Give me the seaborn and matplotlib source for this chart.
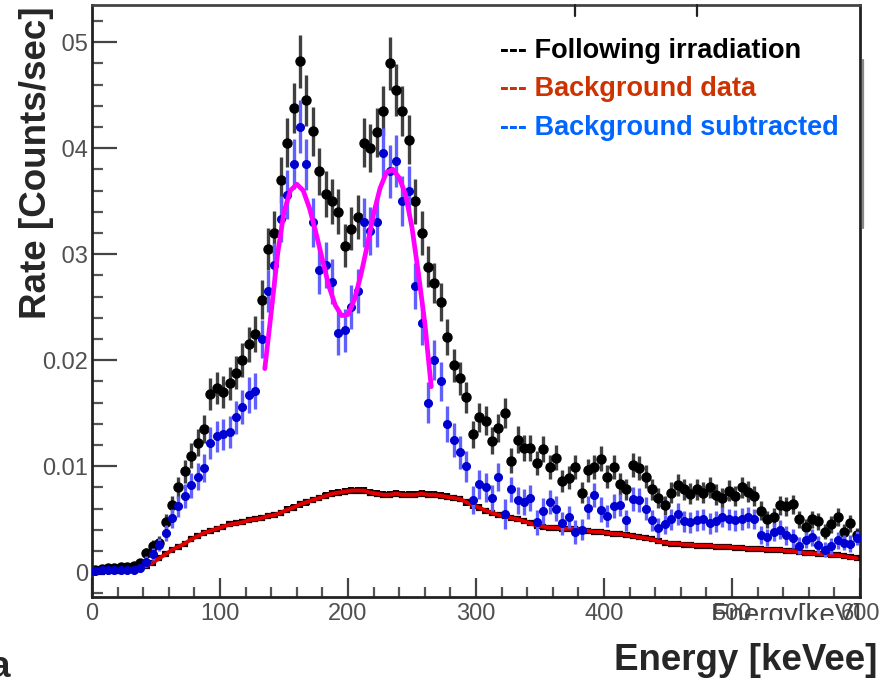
import numpy as np
import matplotlib.pyplot as plt
import seaborn as sns
from matplotlib.lines import Line2D
from matplotlib.ticker import MultipleLocator, FixedLocator

# 5 keVee bins
energy = np.arange(2.5, 600, 5.0)

following = [
    0.0002, 0.0003, 0.0004, 0.0004, 0.0005, 0.0005, 0.0006, 0.0009, 0.0018, 0.0025,
    0.0028, 0.0047, 0.0063, 0.0080, 0.0095, 0.0110, 0.0122, 0.0135, 0.0168, 0.0174,
    0.0170, 0.0178, 0.0188, 0.0200, 0.0215, 0.0225, 0.0257, 0.0305, 0.0320, 0.0370,
    0.0405, 0.0438, 0.0482, 0.0445, 0.0416, 0.0378, 0.0357, 0.0350, 0.0340, 0.0308,
    0.0324, 0.0335, 0.0405, 0.0400, 0.0415, 0.0435, 0.0480, 0.0455, 0.0435, 0.0408,
    0.0350, 0.0320, 0.0288, 0.0273, 0.0255, 0.0222, 0.0195, 0.0183, 0.0165, 0.0130,
    0.0146, 0.0143, 0.0124, 0.0136, 0.0150, 0.0105, 0.0125, 0.0117, 0.0117, 0.0103,
    0.0116, 0.0099, 0.0108, 0.0086, 0.0089, 0.0099, 0.0075, 0.0096, 0.0099, 0.0107,
    0.0090, 0.0099, 0.0083, 0.0078, 0.0101, 0.0098, 0.0090, 0.0078, 0.0070, 0.0063,
    0.0075, 0.0082, 0.0078, 0.0074, 0.0078, 0.0075, 0.0080, 0.0073, 0.0070, 0.0077,
    0.0072, 0.0080, 0.0076, 0.0072, 0.0058, 0.0050, 0.0052, 0.0063, 0.0062, 0.0064,
    0.0050, 0.0043, 0.0050, 0.0048, 0.0038, 0.0045, 0.0052, 0.0038, 0.0046, 0.0035,
]

background = [
    0.0000, 0.0000, 0.0001, 0.0001, 0.0001, 0.0002, 0.0003, 0.0004, 0.0006, 0.0009,
    0.0013, 0.0017, 0.0021, 0.0024, 0.0027, 0.0031, 0.0034, 0.0037, 0.0039, 0.0041,
    0.0043, 0.0045, 0.0046, 0.0047, 0.0049, 0.0050, 0.0051, 0.0053, 0.0054, 0.0056,
    0.0059, 0.0061, 0.0064, 0.0066, 0.0068, 0.0070, 0.0072, 0.0074, 0.0075, 0.0076,
    0.0077, 0.0077, 0.0077, 0.0075, 0.0074, 0.0073, 0.0073, 0.0074, 0.0073, 0.0073,
    0.0073, 0.0074, 0.0073, 0.0073, 0.0072, 0.0071, 0.0070, 0.0069, 0.0066, 0.0063,
    0.0061, 0.0058, 0.0056, 0.0054, 0.0053, 0.0051, 0.0050, 0.0048, 0.0046, 0.0044,
    0.0043, 0.0042, 0.0042, 0.0041, 0.0041, 0.0041, 0.0040, 0.0039, 0.0038, 0.0038,
    0.0037, 0.0036, 0.0036, 0.0035, 0.0034, 0.0033, 0.0032, 0.0031, 0.0029, 0.0028,
    0.0027, 0.0027, 0.0026, 0.0026, 0.0025, 0.0025, 0.0025, 0.0024, 0.0024, 0.0024,
    0.0023, 0.0023, 0.0022, 0.0022, 0.0022, 0.0021, 0.0021, 0.0021, 0.0020, 0.0020,
    0.0019, 0.0018, 0.0018, 0.0017, 0.0017, 0.0016, 0.0016, 0.0015, 0.0014, 0.0013,
]

subtracted = [
    0.0001, 0.0002, 0.0002, 0.0002, 0.0002, 0.0002, 0.0002, 0.0004, 0.0010, 0.0017,
    0.0026, 0.0037, 0.0051, 0.0062, 0.0072, 0.0082, 0.0090, 0.0098, 0.0122, 0.0128,
    0.0130, 0.0132, 0.0146, 0.0156, 0.0167, 0.0171, 0.0220, 0.0265, 0.0290, 0.0333,
    0.0356, 0.0385, 0.0420, 0.0385, 0.0330, 0.0285, 0.0290, 0.0274, 0.0226, 0.0228,
    0.0250, 0.0265, 0.0330, 0.0322, 0.0330, 0.0395, 0.0378, 0.0388, 0.0350, 0.0360,
    0.0270, 0.0235, 0.0160, 0.0200, 0.0180, 0.0140, 0.0125, 0.0113, 0.0100, 0.0068,
    0.0083, 0.0080, 0.0070, 0.0090, 0.0055, 0.0078, 0.0068, 0.0066, 0.0070, 0.0047,
    0.0058, 0.0066, 0.0060, 0.0046, 0.0052, 0.0038, 0.0040, 0.0061, 0.0073, 0.0059,
    0.0053, 0.0062, 0.0063, 0.0049, 0.0069, 0.0068, 0.0060, 0.0049, 0.0042, 0.0045,
    0.0050, 0.0055, 0.0048, 0.0047, 0.0049, 0.0050, 0.0046, 0.0048, 0.0052, 0.0050,
    0.0049, 0.0050, 0.0052, 0.0050, 0.0035, 0.0033, 0.0038, 0.0040, 0.0035, 0.0032,
    0.0025, 0.0030, 0.0033, 0.0026, 0.0021, 0.0025, 0.0030, 0.0028, 0.0027, 0.0032,
]

# double-peak fit drawn over the subtracted spectrum
fit_energy = np.arange(135, 266, 5)
fit_rate = [
    0.0192, 0.0245, 0.0300, 0.0340, 0.0360, 0.0366, 0.0360, 0.0343, 0.0320,
    0.0295, 0.0270, 0.0252, 0.0242, 0.0243, 0.0257, 0.0280, 0.0308, 0.0338,
    0.0362, 0.0377, 0.0380, 0.0372, 0.0356, 0.0325, 0.0282, 0.0235, 0.0175,
]

x_ticks = [0, 100, 200, 300, 400, 500, 600]
y_ticks = [0, 0.01, 0.02, 0.03, 0.04, 0.05]
y_tick_labels = ["0", "0.01", "0.02", "0.03", "0.04", "0.05"]

legend_entries = ["--- Following irradiation", "--- Background data",
                  "--- Background subtracted"]
legend_colors = ["#000000", "#cc3300", "#0066ff"]

# statistical errors (counting statistics)
following_err = np.sqrt(np.array(following) * 1.3e-4)
subtracted_err = np.sqrt(np.array(following) * 1.3e-4)
background_err = np.sqrt(np.array(background) * 1.5e-5)

W, H = 894, 680
sns.set_theme(style="white")
plt.rcParams["font.family"] = ["Liberation Sans", "DejaVu Sans"]

fig = plt.figure(figsize=(W / 100, H / 100), dpi=100)
ax = fig.add_axes([92 / W, 1 - 597 / H, 768 / W, 592 / H])

ax.errorbar(energy, following, xerr=2.5, yerr=following_err, fmt="o", ms=6.5,
            color="black", ecolor="#404040", elinewidth=2.4, zorder=2)
ax.errorbar(energy, background, xerr=2.5, yerr=background_err, fmt="none",
            ecolor="#1a0000", elinewidth=4.5, zorder=3)
sns.lineplot(x=energy, y=background, color="#e00000", lw=2.8, ax=ax, zorder=4)
ax.errorbar(energy, subtracted, xerr=2.5, yerr=subtracted_err, fmt="o", ms=5.5,
            color="#0000d0", ecolor="#6060ff", elinewidth=2.4, zorder=5)
sns.lineplot(x=fit_energy, y=fit_rate, color="#ff00ff", lw=3.4, ax=ax, zorder=6)

ax.set_xlim(0, 600)
ax.set_ylim(-0.00234, 0.0535)
ax.set_xlabel("")
ax.set_ylabel("")

ax.xaxis.set_major_locator(FixedLocator(x_ticks))
ax.xaxis.set_minor_locator(MultipleLocator(20))
ax.yaxis.set_major_locator(FixedLocator(y_ticks))
ax.yaxis.set_minor_locator(MultipleLocator(0.002))
ax.set_yticklabels(y_tick_labels)
ax.set_xticklabels([str(t) for t in x_ticks])

for s in ax.spines.values():
    s.set_color("#222222")
    s.set_linewidth(2)
ax.spines["top"].set_color("#444444")

ax.tick_params(axis="y", which="major", direction="in", length=18, width=1.6,
               color="#444444", pad=3, labelsize=17, labelcolor="#505050", left=True)
ax.tick_params(axis="y", which="minor", direction="in", length=8, width=1.6,
               color="#555555", left=True)
ax.tick_params(axis="x", which="major", direction="in", length=14, width=1.6,
               color="#444444", pad=4, labelsize=17, labelcolor="#505050", bottom=True)
ax.tick_params(axis="x", which="minor", direction="in", length=7, width=1.6,
               color="#555555", bottom=True)

# legend written as coloured text
for i, (txt, c) in enumerate(zip(legend_entries, legend_colors)):
    fig.text(500 / W, 1 - (58 + 38.5 * i) / H, txt, color=c, fontsize=19.5,
             fontweight="bold", ha="left", va="baseline")

# leftover ROOT axis title, partly hidden under the pasted title
fig.text(862 / W, 1 - 603 / H, "Energy[keV]", color="#444444", fontsize=20,
         ha="right", va="top", zorder=3)

# axis titles pasted over the plot with white boxes
fig.text(37 / W, 1 - 163 / H, "Rate [Counts/sec]", rotation=90, fontsize=26.5,
         fontweight="bold", ha="center", va="center", zorder=5,
         bbox=dict(facecolor="white", edgecolor="none", pad=4))
fig.text(746 / W, 1 - 660 / H, "Energy [keVee]", fontsize=26.5,
         fontweight="bold", ha="center", va="center", zorder=5,
         bbox=dict(facecolor="white", edgecolor="none", pad=16))
fig.text(-10 / W, 3 / H, "a", fontsize=26.5, fontweight="bold",
         ha="left", va="baseline")

# small frame remnants
for x0, y0, x1, y1, col in [(575, 5, 575, 16, "#222222"), (697, 5, 697, 16, "#222222"),
                            (863, 60, 863, 228, "#888888")]:
    fig.add_artist(Line2D([x0 / W, x1 / W], [1 - y0 / H, 1 - y1 / H],
                          color=col, lw=1.6))

fig.savefig("out.png", dpi=100)
